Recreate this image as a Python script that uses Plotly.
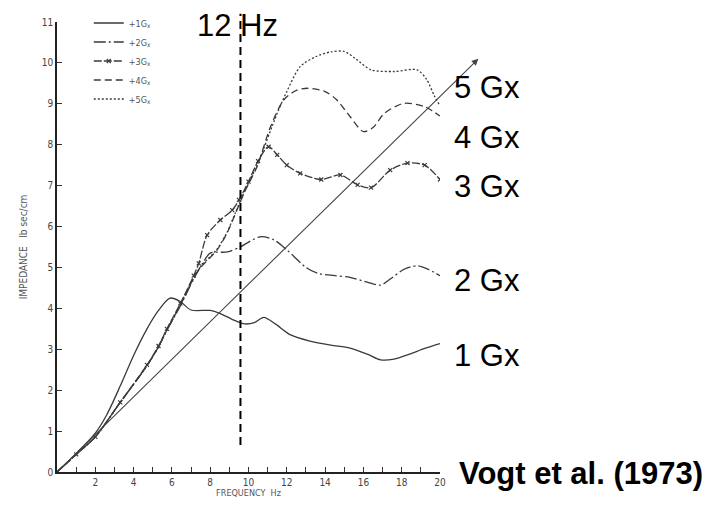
import plotly.graph_objects as go

# ---- data ----
series_names = ["+1G<sub>x</sub>", "+2G<sub>x</sub>", "+3G<sub>x</sub>", "+4G<sub>x</sub>", "+5G<sub>x</sub>"]
side_labels = ["1 Gx", "2 Gx", "3 Gx", "4 Gx", "5 Gx"]

x1 = [0, 1, 2, 2.6, 3.3, 4, 4.7, 5.3, 5.9, 6.4, 7.0, 8.0, 8.5, 9.2, 9.8, 10.3, 10.8, 11.4, 12.2, 13.2, 14.3, 15.3, 16.2, 16.9, 17.6, 18.4, 19.2, 20]
y1 = [0, 0.45, 0.95, 1.4, 2.1, 2.85, 3.5, 3.95, 4.25, 4.18, 3.96, 3.95, 3.88, 3.72, 3.62, 3.65, 3.78, 3.62, 3.35, 3.2, 3.1, 3.03, 2.88, 2.74, 2.76, 2.88, 3.02, 3.14]

x2 = [0, 1, 2, 3.3, 4.7, 5.3, 5.74, 6.44, 7.14, 7.6, 8.0, 8.9, 9.6, 10.6, 11.3, 12.0, 13.0, 13.6, 14.5, 15.3, 16.2, 16.9, 17.5, 18.1, 18.8, 19.4, 20]
y2 = [0, 0.43, 0.86, 1.7, 2.6, 3.06, 3.47, 4.06, 4.72, 5.1, 5.35, 5.38, 5.51, 5.75, 5.68, 5.43, 5.0, 4.86, 4.8, 4.76, 4.64, 4.57, 4.75, 4.95, 5.04, 4.95, 4.8]

x3 = [0, 1, 2, 3.3, 4.7, 5.3, 5.74, 6.44, 7.14, 7.4, 7.84, 8.53, 9.15, 9.5, 10.0, 10.5, 11.05, 11.5, 12.0, 12.7, 13.8, 14.8, 15.7, 16.4, 17.4, 18.3, 19.2, 20]
y3 = [0, 0.43, 0.86, 1.7, 2.62, 3.08, 3.5, 4.12, 4.8, 5.1, 5.79, 6.16, 6.4, 6.65, 7.1, 7.6, 7.95, 7.75, 7.5, 7.3, 7.15, 7.26, 7.02, 6.95, 7.38, 7.55, 7.5, 7.15]

x4 = [0, 1, 2, 3.3, 4.7, 5.3, 5.74, 6.44, 7.14, 7.5, 8.36, 8.88, 9.32, 9.8, 10.45, 11.15, 11.85, 12.5, 13.1, 14.0, 14.6, 15.3, 16.0, 16.5, 17.1, 18.1, 19.2, 20]
y4 = [0, 0.43, 0.86, 1.7, 2.6, 3.06, 3.47, 4.08, 4.75, 5.0, 5.43, 5.84, 6.32, 6.85, 7.47, 8.44, 9.1, 9.33, 9.38, 9.3, 9.1, 8.69, 8.32, 8.42, 8.77, 9.01, 8.93, 8.7]

x5 = [0, 1, 2, 3.3, 4.7, 5.3, 5.74, 6.44, 7.14, 7.5, 8.36, 8.88, 9.32, 9.8, 10.45, 11.5, 12.0, 12.7, 13.5, 14.3, 15.0, 15.6, 16.4, 17.6, 18.8, 19.3, 19.7, 20]
y5 = [0, 0.43, 0.86, 1.7, 2.6, 3.06, 3.47, 4.08, 4.75, 5.02, 5.45, 5.86, 6.34, 6.87, 7.5, 8.77, 9.3, 9.91, 10.15, 10.27, 10.28, 10.1, 9.83, 9.79, 9.83, 9.6, 9.2, 8.95]

diag_x = [0, 22.0]
diag_y = [0, 10.1]
vline_x = 9.58
vline_y = [0.66, 11.2]

x_ticks = list(range(0, 21))
x_ticktext = [str(v) if (v % 2 == 0 and v > 0) else "" for v in x_ticks]
y_ticks = list(range(0, 12))
y_ticktext = [str(v) for v in y_ticks]

X_RANGE = [0, 20]
Y_RANGE = [0, 11]

# ---- styles ----
ink = "#3a3a3a"
styles = [
    dict(dash="solid", mode="lines", marker=None),
    dict(dash="12px,3px,2px,3px", mode="lines", marker=None),
    dict(dash="8px,2px", mode="lines+markers", marker=dict(symbol="x-thin-open", size=4, color=ink, line=dict(width=1.2, color=ink))),
    dict(dash="7px,4px", mode="lines", marker=None),
    dict(dash="2px,2px", mode="lines", marker=None),
]

fig = go.Figure()
xs = [x1, x2, x3, x4, x5]
ys = [y1, y2, y3, y4, y5]
for name, xv, yv, st in zip(series_names, xs, ys, styles):
    kw = dict(x=xv, y=yv, name=name, mode=st["mode"],
              line=dict(color=ink, width=1.3, dash=st["dash"], shape="spline", smoothing=0.8))
    if st["marker"] is not None:
        kw["marker"] = st["marker"]
    fig.add_trace(go.Scatter(**kw))

# diagonal reference line with arrow
fig.add_annotation(x=diag_x[1], y=diag_y[1], ax=diag_x[0], ay=diag_y[0],
                   xref="x", yref="y", axref="x", ayref="y",
                   showarrow=True, arrowhead=2, arrowsize=1.2, arrowwidth=1.1,
                   arrowcolor="#444", text="")

# vertical dashed marker line
y_span = Y_RANGE[1] - Y_RANGE[0]
fig.add_shape(type="line", xref="x", yref="paper",
              x0=vline_x, x1=vline_x,
              y0=(vline_y[0] - Y_RANGE[0]) / y_span, y1=(vline_y[1] - Y_RANGE[0]) / y_span,
              line=dict(color="black", width=2, dash="8px,5px"))

big = dict(family="Liberation Sans, Arial, sans-serif", size=31, color="black")
fig.add_annotation(text="12 Hz", xref="x", yref="paper", x=9.42, y=0.993,
                   xanchor="center", yanchor="middle", showarrow=False, font=big)

label_y = [2.84, 4.67, 6.97, 8.17, 9.39]
for txt, ly in zip(side_labels, label_y):
    fig.add_annotation(text=txt, xref="paper", yref="y", x=1.031, y=ly,
                       xanchor="left", yanchor="middle", showarrow=False, font=big)

fig.add_annotation(text="<b>Vogt et al. (1973)</b>", xref="paper", yref="paper",
                   x=1.044, y=-0.004, xanchor="left", yanchor="middle", showarrow=False,
                   font=dict(family="Liberation Sans, Arial, sans-serif", size=31, color="black"))

small = dict(family="DejaVu Sans Condensed, DejaVu Sans, sans-serif", size=9, color="#555")
tick_font = dict(family="DejaVu Sans Condensed, DejaVu Sans, sans-serif", size=10, color="#444")
ytitle_font = dict(family="DejaVu Sans Condensed, DejaVu Sans, sans-serif", size=10, color="#555")

fig.update_layout(
    width=713, height=505,
    margin=dict(l=57, r=273, t=22, b=33, autoexpand=False),
    paper_bgcolor="white", plot_bgcolor="white",
    showlegend=True,
    legend=dict(x=0.083, y=1.03, xanchor="left", yanchor="top",
                bgcolor="rgba(0,0,0,0)", font=small, tracegroupgap=0),
    xaxis=dict(range=X_RANGE, tickmode="array", tickvals=x_ticks, ticktext=x_ticktext,
               ticks="inside", ticklen=5, tickcolor="#333", tickwidth=1,
               showline=True, linecolor="#222", linewidth=1.6,
               showgrid=False, zeroline=False, tickfont=tick_font,
               title=dict(text="FREQUENCY  Hz", font=small, standoff=2)),
    yaxis=dict(range=Y_RANGE, tickmode="array", tickvals=y_ticks, ticktext=y_ticktext,
               ticks="inside", ticklen=5, tickcolor="#333", tickwidth=1,
               showline=True, linecolor="#222", linewidth=1.6,
               showgrid=False, zeroline=False, tickfont=tick_font,
               title=dict(text="IMPEDANCE   lb sec/cm", font=ytitle_font, standoff=12)),
)

fig.write_html("out.html")
